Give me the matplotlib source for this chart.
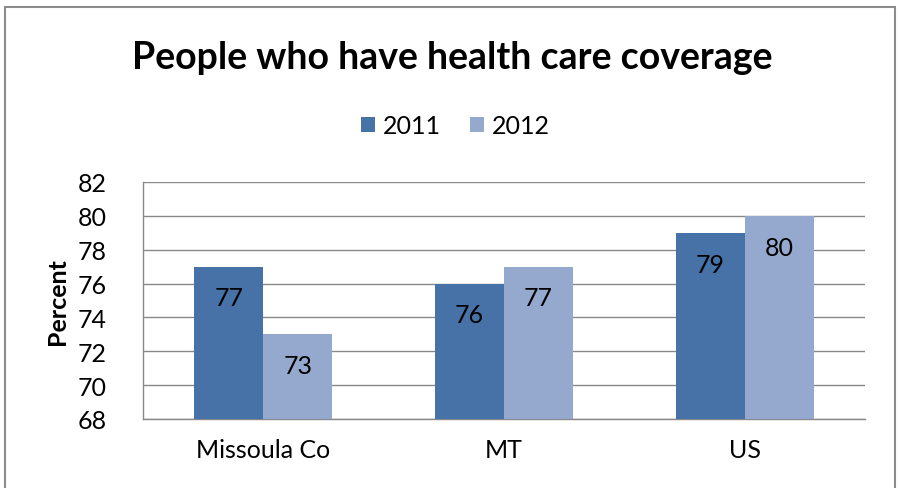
import matplotlib.pyplot as plt
import matplotlib.patches as mpatches
import numpy as np

# health care coverage by area and year
areas = ['Missoula Co', 'MT', 'US']
years = ['2011', '2012']
pct_2011 = [77, 76, 79]
pct_2012 = [73, 77, 80]
yticks = [68, 70, 72, 74, 76, 78, 80, 82]

col_2011 = '#4672a8'
col_2012 = '#95a9cf'
fs = 18

plt.rcParams['font.family'] = ['Lato', 'DejaVu Sans']

fig = plt.figure(figsize=(9, 4.89), dpi=100)
ax = fig.add_axes([143 / 900, 1 - 420 / 489, 722 / 900, 237 / 489])

x = np.arange(len(areas))
w = 0.287
b1 = ax.bar(x - w / 2, pct_2011, w, color=col_2011, label=years[0], zorder=3)
b2 = ax.bar(x + w / 2, pct_2012, w, color=col_2012, label=years[1], zorder=3)

# value labels just under the bar tops
for bars, vals in ((b1, pct_2011), (b2, pct_2012)):
    for rect, v in zip(bars, vals):
        ax.text(rect.get_x() + rect.get_width() / 2, v - 1.85, str(v),
                ha='center', va='center', fontsize=fs, color='black', zorder=4)

ax.set_xlim(-0.5, 2.5)
ax.set_ylim(68, 82)
ax.set_yticks(yticks)
ax.set_xticks(x)
ax.set_xticklabels(areas, fontsize=fs)
ax.tick_params(axis='y', labelsize=fs, length=0, pad=26)
ax.tick_params(axis='x', length=0, pad=14)
ax.yaxis.grid(True, color='#888888', linewidth=1, zorder=0)
for s in ['top', 'right']:
    ax.spines[s].set_visible(False)
for s in ['left', 'bottom']:
    ax.spines[s].set_color('#888888')
    ax.spines[s].set_linewidth(1)
ax.set_ylabel('Percent', fontsize=fs, fontweight='bold', labelpad=6)

fig.text(0.502, 1 - 58 / 489, 'People who have health care coverage',
         ha='center', va='center', fontsize=27, fontweight='bold')

leg = fig.legend(loc='center', bbox_to_anchor=(0.506, 1 - 127 / 489), ncol=2,
                 frameon=False, fontsize=fs, handlelength=0.55, handleheight=0.55,
                 handletextpad=0.3, columnspacing=1.2)

# chart area border
frame = mpatches.Rectangle((5 / 900, -0.05), 890 / 900, 1.05 - 8 / 489,
                           transform=fig.transFigure, fill=False,
                           edgecolor='#8c8c8c', linewidth=1.5, clip_on=False)
fig.patches.append(frame)

fig.savefig('out.png', dpi=100)
